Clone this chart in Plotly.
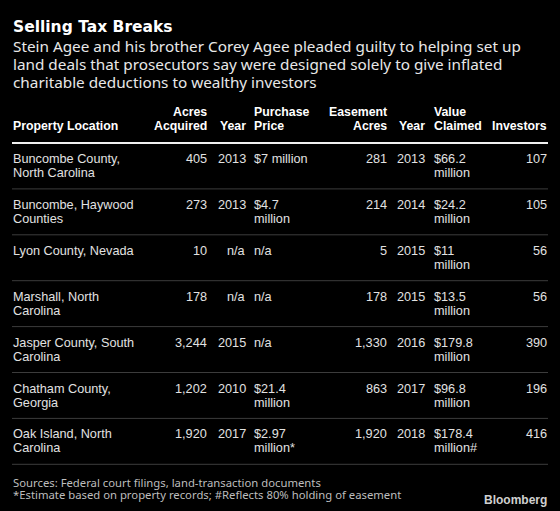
import plotly.graph_objects as go

W, H = 560, 511

title = "Selling Tax Breaks"
subtitle_lines = [
    "Stein Agee and his brother Corey Agee pleaded guilty to helping set up",
    "land deals that prosecutors say were designed solely to give inflated",
    "charitable deductions to wealthy investors",
]
headers = [
    ("", "Property Location"),
    ("Acres", "Acquired"),
    ("", "Year"),
    ("Purchase", "Price"),
    ("Easement", "Acres"),
    ("", "Year"),
    ("Value", "Claimed"),
    ("", "Investors"),
]
locations = [
    "Buncombe County,\nNorth Carolina",
    "Buncombe, Haywood\nCounties",
    "Lyon County, Nevada",
    "Marshall, North\nCarolina",
    "Jasper County, South\nCarolina",
    "Chatham County,\nGeorgia",
    "Oak Island, North\nCarolina",
]
acres_acquired = [405, 273, 10, 178, 3244, 1202, 1920]
year_acquired = ["2013", "2013", "n/a", "n/a", "2015", "2010", "2017"]
purchase_price = ["$7 million", "$4.7\nmillion", "n/a", "n/a", "n/a",
                  "$21.4\nmillion", "$2.97\nmillion*"]
easement_acres = [281, 214, 5, 178, 1330, 863, 1920]
year_easement = [2013, 2014, 2015, 2015, 2016, 2017, 2018]
value_claimed = ["$66.2\nmillion", "$24.2\nmillion", "$11\nmillion", "$13.5\nmillion",
                 "$179.8\nmillion", "$96.8\nmillion", "$178.4\nmillion#"]
investors = [107, 105, 56, 56, 390, 196, 416]
footnotes = [
    "Sources: Federal court filings, land-transaction documents",
    "*Estimate based on property records; #Reflects 80% holding of easement",
]
brand = "Bloomberg"

# column anchors (pixel x, alignment)
cols = [(12, "left"), (208, "right"), (247, "right"), (253, "left"),
        (388, "right"), (426, "right"), (433, "left"), (548, "right")]

BODY_FONT = "Liberation Sans, Arial, sans-serif"
SUB_FONT = "Noto Sans, sans-serif"
TEXT_COLOR = "#e2e2e2"

fig = go.Figure()
ann = []
shapes = []


def px(x):
    return x / W


def py(y):
    return 1 - y / H


def add_text(x, y, text, size, color=TEXT_COLOR, family=BODY_FONT, anchor="left", bold=False):
    t = f"<b>{text}</b>" if bold else text
    ann.append(dict(x=px(x), y=py(y), xref="paper", yref="paper", text=t,
                    showarrow=False, xanchor=anchor, yanchor="middle",
                    borderpad=0, align=anchor,
                    font=dict(size=size, color=color, family=family)))


def add_line(y, color, width):
    shapes.append(dict(type="line", xref="paper", yref="paper",
                       x0=px(12), x1=px(548), y0=py(y), y1=py(y),
                       line=dict(color=color, width=width)))


# title + subtitle
add_text(12, 27, title, 15.5, color="#ffffff", family="DejaVu Sans, sans-serif", bold=True)
for i, line in enumerate(subtitle_lines):
    add_text(12, 46 + i * 18.1, line, 15.3, color="#e8e8e8", family=SUB_FONT)

# headers
for (x, a), (l1, l2) in zip(cols, headers):
    if l1:
        add_text(x, 112, l1, 12.3, color="#ffffff", anchor=a, bold=True)
    add_text(x, 126.5, l2, 12.3, color="#ffffff", anchor=a, bold=True)
add_line(143, "#f0f0f0", 2)

# rows
row_h = 45.9
for r in range(len(locations)):
    top = 143 + r * row_h
    values = [
        locations[r],
        f"{acres_acquired[r]:,}",
        year_acquired[r],
        purchase_price[r],
        f"{easement_acres[r]:,}",
        str(year_easement[r]),
        value_claimed[r],
        str(investors[r]),
    ]
    for (x, a), v in zip(cols, values):
        for k, part in enumerate(v.split("\n")):
            add_text(x, top + 16 + k * 14, part, 12.7, anchor=a)
    add_line(top + row_h, "#3c3c3c", 1)

# footnotes
add_text(12, 482.5, footnotes[0], 11.3, color="#bdbdbd", family=SUB_FONT)
add_text(12, 494, footnotes[1], 11.3, color="#bdbdbd", family=SUB_FONT)
add_text(548, 500, brand, 12, color="#d0d0d0", anchor="right", bold=True)

fig.update_layout(
    width=W, height=H,
    margin=dict(l=0, r=0, t=0, b=0),
    paper_bgcolor="#000000", plot_bgcolor="#000000",
    xaxis=dict(visible=False, range=[0, 1]),
    yaxis=dict(visible=False, range=[0, 1]),
    annotations=ann, shapes=shapes,
    showlegend=False,
)
fig.write_html(
    "out.html",
    config={"displayModeBar": False},
    post_script="document.body.style.margin='0';document.body.style.overflow='hidden';document.body.style.background='#000';",
)
